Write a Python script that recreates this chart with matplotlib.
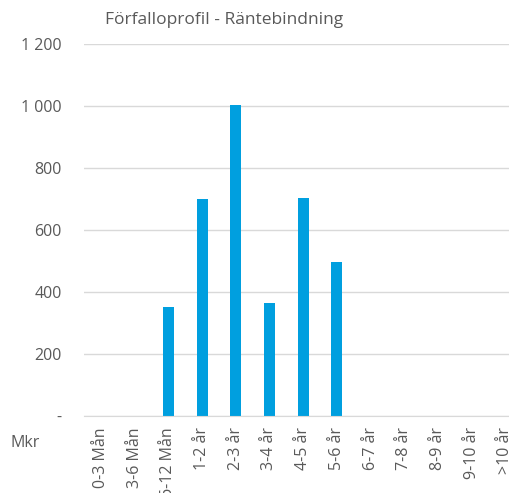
import matplotlib
matplotlib.use("Agg")
import matplotlib.pyplot as plt
from matplotlib.ticker import FuncFormatter

categories = ["0-3 Mån", "3-6 Mån", "6-12 Mån", "1-2 år", "2-3 år", "3-4 år", "4-5 år",
              "5-6 år", "6-7 år", "7-8 år", "8-9 år", "9-10 år", ">10 år"]
values = [0, 0, 352, 699, 1002, 363, 703, 497, 0, 0, 0, 0, 0]
yticks = [0, 200, 400, 600, 800, 1000, 1200]

plt.rcParams["font.family"] = ["Open Sans", "DejaVu Sans"]
TXT = "#595959"
GRID = "#d9d9d9"

fig = plt.figure(figsize=(5.10, 4.93), dpi=100)
# the chart is a little wider than the picture: the right edge is cut off
ax = fig.add_axes([0.165, 0.156, 0.859, 0.755])

x = list(range(len(categories)))
ax.bar(x, values, width=0.33, color="#009FDF")

ax.set_xlim(-0.5, len(categories) - 0.5)
ax.set_ylim(0, 1200)
ax.set_yticks(yticks)
ax.yaxis.set_major_formatter(FuncFormatter(
    lambda v, _: "-" if v == 0 else f"{int(v):,}".replace(",", " ")))
ax.set_xticks(x)
ax.set_xticklabels(categories, rotation=90, va="top")
ax.tick_params(axis="both", length=0, colors=TXT, labelsize=11.5)
ax.tick_params(axis="y", pad=16)
ax.tick_params(axis="x", pad=8)

ax.grid(axis="y", color=GRID, linewidth=1)
ax.set_axisbelow(True)
for s in ["top", "right", "left"]:
    ax.spines[s].set_visible(False)
ax.spines["bottom"].set_color(GRID)

fig.text(0.439, 0.96, "Förfalloprofil - Räntebindning", ha="center", va="center",
         fontsize=12.5, color=TXT)
fig.text(0.049, 0.101, "Mkr", ha="center", va="center", fontsize=11.5, color=TXT)

fig.savefig("out.png", dpi=100)
